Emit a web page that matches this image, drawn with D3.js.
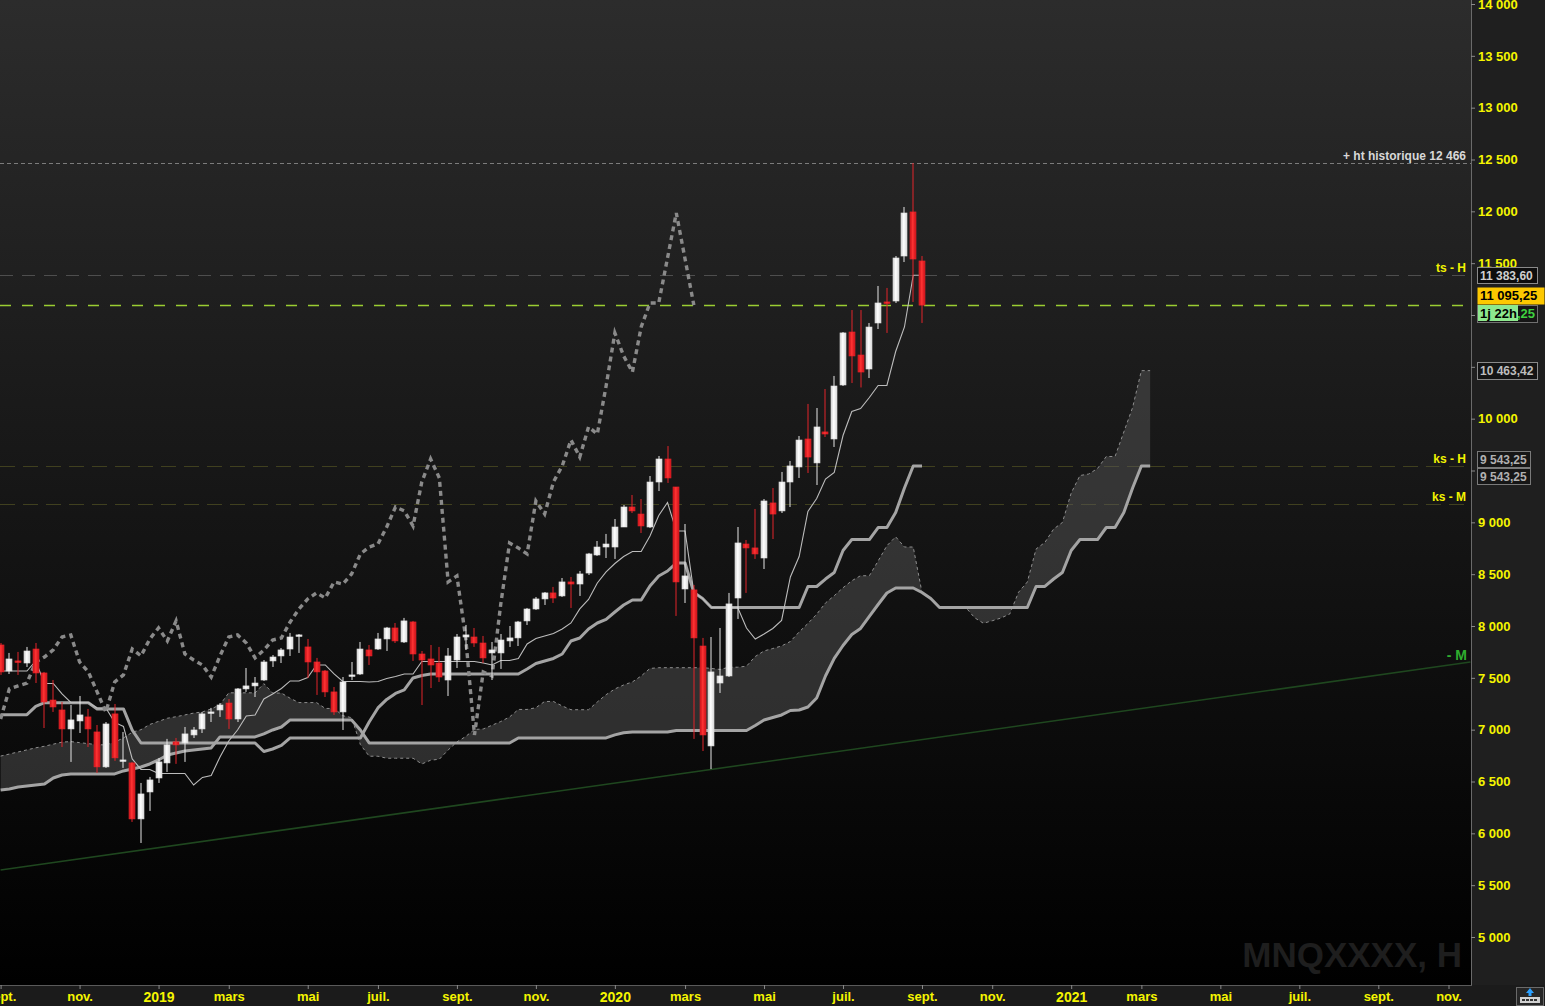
<!DOCTYPE html>
<html><head><meta charset="utf-8">
<script src="https://cdn.jsdelivr.net/npm/d3@7"></script>
<style>
html,body{margin:0;padding:0;background:#000;overflow:hidden;}
svg{display:block;font-family:Arial,"Liberation Sans",sans-serif;}
</style></head><body>
<svg id="c" width="1545" height="1006"></svg>
<script>
// ---------------- DATA (weekly bars, MNQ continuous) ----------------
const startWeek = "2018-09-03";
const opens = [7817,7566,7663,7643,7778,7547,7286,7190,7007,7084,
7123,6978,6641,7152,6699,6679,6139,6399,6534,6679,
6882,6872,6949,7007,7161,7190,7257,7103,7393,7422,
7479,7663,7711,7778,7904,7798,7653,7566,7364,7171,
7518,7537,7769,7778,7875,7981,7846,8039,7730,7682,
7643,7479,7672,7894,7894,7836,7740,7740,7856,7885,
8049,8164,8261,8319,8290,8425,8405,8511,8685,8762,
8762,8955,9148,9080,8955,9389,9611,9341,8357,8348,
7807,6843,7450,7518,8270,8791,8753,8656,9187,9110,
9389,9534,9804,9573,9872,9804,10325,10836,10614,10479,
10923,11126,11135,11569,11994,11521];
const highs = [7836,7740,7750,7798,7836,7557,7479,7267,7238,7325,
7200,7045,7074,7248,6978,6689,6486,6544,6727,6911,
6920,7026,7026,7171,7210,7257,7296,7402,7595,7508,
7672,7720,7788,7933,7923,7875,7692,7576,7412,7508,
7653,7846,7817,7933,7991,8029,8078,8049,7759,7817,
7798,7788,7923,8010,7981,7904,7846,7923,8000,8049,
8174,8280,8328,8377,8463,8473,8531,8705,8820,8888,
9032,9167,9264,9225,9447,9640,9736,9341,8984,8396,
7885,7894,7981,8319,8955,8830,9129,9225,9331,9486,
9592,9833,10142,10103,10286,10412,10836,11048,11048,10923,
11280,11261,11569,12042,12466,11569];
const lows = [7528,7537,7528,7605,7450,7016,7171,6833,6689,6968,
6833,6583,6631,6699,6631,6110,5907,6216,6486,6592,
6670,6689,6920,6968,7074,7123,7007,7074,7364,7315,
7470,7605,7643,7711,7740,7499,7335,7315,7142,6997,
7479,7528,7624,7769,7759,7836,7836,7663,7238,7402,
7460,7325,7595,7769,7798,7643,7479,7586,7798,7807,
8010,8155,8203,8222,8280,8174,8290,8492,8676,8656,
8647,8955,9090,8897,8945,9302,9380,8097,8222,6911,
6794,6620.5,7354,7508,8068,8319,8647,8550,8839,9090,
9148,9428,9476,9360,9823,9727,10315,10344,10301,10392,
10865,10827,11116,11511,11126,10923];
const closes = [7557,7682,7653,7759,7547,7267,7219,7007,7094,7142,
7007,6641,7055,6728,6708,6139,6380,6515,6689,6853,
6853,6959,6997,7152,7171,7238,7103,7393,7422,7450,
7653,7701,7769,7894,7914,7653,7557,7364,7171,7460,
7528,7778,7711,7875,7981,7856,8049,7730,7672,7624,
7508,7711,7894,7914,7836,7692,7769,7865,7885,8039,
8164,8261,8319,8270,8425,8405,8502,8695,8762,8791,
8955,9148,9110,8965,9389,9611,9428,8425,8483,7885,
6949,7557,7518,8213,8801,8753,8695,9206,9080,9389,
9544,9794,9630,9920,9852,10315,10827,10605,10450,10884,
11116,11116,11550,11984,11540,11095.25];

// Ichimoku lines (tenkan / kijun per bar, senkou spans projected 26 bars ahead)
const tenkan = [7566,7566,7566,7566,7663,7446,7446,7345,7262.5,7262.5,
7262.5,7209.5,7209.5,7070,7031,6717.5,6616,6616,6577.5,6577.5,
6577.5,6577.5,6466.5,6539,6558.5,6736.5,6891,6997,7132.5,7142,
7296,7344,7397.5,7470,7470,7503.5,7624,7624,7537.5,7465,
7465,7465,7460,7465,7494,7513,7537.5,7537.5,7658,7658,
7658,7658,7658,7658,7658,7643.5,7624,7667.5,7667.5,7687,
7826.5,7879.5,7903.5,7928,7971,8029.5,8164.5,8256,8415,8521.5,
8603,8670.5,8719,8719,8868.5,9066,9191.5,8916.5,8916.5,8323.5,
8265,8178,8178,8178,8178,7980.75,7874.75,7922.75,7975.75,8053.25,
8473,8670.5,9105,9230.5,9418,9481,9837.5,10069,10098,10204,
10320,10320,10648,10884.5,11383.6,11383.6];
const kijun = [7145,7145,7145,7145,7225,7260,7260,7260,7260,7260,
7260,7200,7200,7200,7200,6995,6871.5,6871.5,6871.5,6871.5,
6871.5,6871.5,6871.5,6871.5,6871.5,6871.5,6871.5,6871.5,6871.5,6871.5,
6789.5,6813.5,6847.5,6920,6920,6920,6920,6920,6920,6920,
6920,6920,7074.5,7209.5,7291.5,7349.5,7383.5,7499,7523,7537.5,
7537.5,7537.5,7537.5,7537.5,7537.5,7537.5,7537.5,7537.5,7537.5,7537.5,
7585.5,7638.5,7662.5,7687,7730,7855.5,7884.5,7971.5,8029,8063,
8135,8202.5,8251,8251,8386,8482.5,8530.5,8607.5,8607.5,8323.5,
8265,8178,8178,8178,8178,8178,8178,8178,8178,8178,
8178,8178,8381,8381,8453,8516,8728,8834,8834,8834,
8950,8950,9095,9331,9543.25,9543.25];
const senkouA = [6745,6765,6785,6805,6825,6840,6860,6880,6885,6875,
6865,6855,6853,6880,6920,6975,7000,7050,7080,7110,
7125,7142,7160,7171,7200,7240,7355.5,7355.5,7355.5,7355.5,
7444,7353,7353,7302.5,7261.25,7261.25,7261.25,7204.75,7204.75,7135,
7115.5,6856.25,6743.75,6743.75,6724.5,6724.5,6724.5,6724.5,6669,6705.25,
6715,6804,6881.25,6934.25,7002,7006.75,7042.75,7078.75,7122.5,7195,
7195,7211.75,7272,7272,7228.75,7192.5,7192.5,7192.5,7267.25,7337.25,
7392.75,7431.25,7460.5,7518.25,7590.5,7597.75,7597.75,7597.75,7597.75,7597.75,
7597.75,7590.5,7580.75,7602.5,7602.5,7612.25,7706,7759,7783,7807.5,
7850.5,7942.5,8024.5,8113.75,8222,8292.25,8369,8436.5,8485,8485,
8627.25,8774.25,8861,8762,8762,8323.5,8265,8178,8178,8178,
8178,8079.4,8026.4,8050.4,8076.9,8115.6,8325.5,8424.25,8743,8805.75,
8935.5,8998.5,9282.75,9451.5,9466,9519,9635,9635,9871.5,10107.75,
10463.42,10463.42];
const senkouB = [6418,6428,6447,6457,6467,6476,6534,6563,6573,6573,
6573,6573,6573,6573,6602,6621,6640,6669,6708,6756,
6775,6795,6804,6814,6824,6930,6930,6930,6930,6930,
6959,6997,7026,7094,7094,7094,7094,7094,7094,7094,
7094,6997,6872,6872,6872,6872,6872,6872,6872,6872,
6872,6872,6872,6872,6872,6872,6872,6872,6872,6920,
6920,6920,6920,6920,6920,6920,6920,6920,6920,6920,
6950,6970,6978,6978,6978,6978,6978,6992.5,6992.5,6992.5,
6992.5,6992.5,6992.5,6992.5,6992.5,6992.5,7040.5,7093.5,7117.5,7142,
7185,7190,7219,7306,7518,7687,7812,7918.5,7976.5,8092,
8207.5,8318.5,8366.5,8366.5,8366.5,8323.5,8265,8178,8178,8178,
8178,8178,8178,8178,8178,8178,8178,8178,8381.25,8381.25,
8453.25,8516.25,8728.25,8834.25,8834.25,8834.25,8950.25,8950.25,9094.75,9331.25,
9543.25,9543.25];
const chikouShift = 26;

const yTicks = [5000,5500,6000,6500,7000,7500,8000,8500,9000,9500,10000,10500,11000,11500,12000,12500,13000,13500,14000];
const yTicksCovered = [9500, 11000];   // labels hidden behind the price boxes in the reference
const monthNames = ["janv.","févr.","mars","avr.","mai","juin","juil.","août","sept.","oct.","nov.","déc."];

const levelVals = [12466, 11383.6, 11095.25, 9543.25, 9177];
const levelLabels = ["+ ht historique 12 466", "ts - H", "", "ks - H", "ks - M"];
const trendIdx = [0, 167.5];
const trendVals = [5646, 7653];
const trendLabel = "- M";
const watermark = "MNQXXXX, H";
const timerLabel = "1j 22h";
const timerTail = ",25";

// ---------------- LAYOUT ----------------
const W = 1545, H = 1006, PR = 1471, PB = 985;
const fr = d3.formatLocale({decimal: ",", thousands: " ", grouping: [3], currency: ["", " €"]});
const fmtInt = fr.format(",");
const fmt2 = fr.format(",.2f");

const x = d3.scaleLinear().domain([0, 105]).range([0.6, 922]);
const y = d3.scaleLinear().domain([5000, 14000]).range([937, 4]);

const svg = d3.select("#c");
const defs = svg.append("defs");
const bg = defs.append("linearGradient").attr("id","bg").attr("x1",0).attr("y1",0).attr("x2",0).attr("y2",1);
bg.append("stop").attr("offset",0).attr("stop-color","#2c2c2c");
bg.append("stop").attr("offset",1).attr("stop-color","#000000");
function hgrad(id, a, b, c){
  const g = defs.append("linearGradient").attr("id",id).attr("x1",0).attr("y1",0).attr("x2",1).attr("y2",0);
  g.append("stop").attr("offset",0).attr("stop-color",a);
  g.append("stop").attr("offset",0.45).attr("stop-color",b);
  g.append("stop").attr("offset",1).attr("stop-color",c);
}
hgrad("gRed", "#c20d15", "#ff3434", "#c80f17");
hgrad("gWhite", "#cfcfcf", "#ffffff", "#d8d8d8");
defs.append("clipPath").attr("id","clip").append("rect").attr("width",PR).attr("height",PB);

svg.append("rect").attr("width",W).attr("height",H).attr("fill","#1f1f1f");
svg.append("rect").attr("width",PR).attr("height",PB).attr("fill","url(#bg)");

const plot = svg.append("g").attr("clip-path","url(#clip)");

// watermark
plot.append("text").attr("x",1462).attr("y",967).attr("text-anchor","end")
  .attr("font-size",35).attr("font-weight","bold").attr("fill","#1e1e1e").text(watermark);

// horizontal levels
const levelStyle = [
  {stroke:"#7c7c7c", dash:"4,3", w:1, color:"#d8d8d8"},
  {stroke:"#4e4e4e", dash:"13,9", w:1, color:"#f2f200"},
  {stroke:"#9acd32", dash:"11,11", w:1.4, color:null},
  {stroke:"#40401f", dash:"15,8", w:1, color:"#f2f200"},
  {stroke:"#40401f", dash:"15,8", w:1, color:"#f2f200"}
];
levelVals.forEach((v,k)=>{
  const yy = Math.round(y(v)) + 0.5;
  plot.append("line").attr("x1",0).attr("x2",PR).attr("y1",yy).attr("y2",yy)
    .attr("stroke",levelStyle[k].stroke).attr("stroke-width",levelStyle[k].w)
    .attr("stroke-dasharray",levelStyle[k].dash);
  if (levelLabels[k]) {
    plot.append("text").attr("x",1466).attr("y",yy-4).attr("text-anchor","end")
      .attr("font-size",12).attr("font-weight","bold").attr("fill",levelStyle[k].color)
      .text(levelLabels[k]);
  }
});

// green trend line
plot.append("line").attr("x1",x(trendIdx[0])).attr("y1",y(trendVals[0]))
  .attr("x2",x(trendIdx[1])).attr("y2",y(trendVals[1]))
  .attr("stroke","#1f471f").attr("stroke-width",1.6);
plot.append("text").attr("x",1467).attr("y",y(trendVals[1])-2).attr("text-anchor","end")
  .attr("font-size",14).attr("font-weight","bold").attr("fill","#2fae2f").text(trendLabel);

// cloud
const idxA = senkouA.map((d,i)=>i);
plot.append("path").datum(idxA)
  .attr("d", d3.area().x(i=>x(i)).y0(i=>y(senkouB[i])).y1(i=>y(senkouA[i])))
  .attr("fill","rgba(92,92,92,0.45)");
plot.append("path").datum(idxA)
  .attr("d", d3.line().x(i=>x(i)).y(i=>y(senkouA[i])))
  .attr("fill","none").attr("stroke","#8e8e8e").attr("stroke-width",1).attr("stroke-dasharray","3,3");
plot.append("path").datum(idxA)
  .attr("d", d3.line().x(i=>x(i)).y(i=>y(senkouB[i])))
  .attr("fill","none").attr("stroke","#a4a4a4").attr("stroke-width",3).attr("stroke-linejoin","round");

// kijun
plot.append("path").datum(kijun)
  .attr("d", d3.line().x((d,i)=>x(i)).y(d=>y(d)))
  .attr("fill","none").attr("stroke","#a4a4a4").attr("stroke-width",3).attr("stroke-linejoin","round");
// tenkan
plot.append("path").datum(tenkan)
  .attr("d", d3.line().x((d,i)=>x(i)).y(d=>y(d)))
  .attr("fill","none").attr("stroke","#bcbcbc").attr("stroke-width",1.1);
// chikou (closes plotted 26 bars back)
const chikou = closes.slice(chikouShift);
plot.append("path").datum(chikou)
  .attr("d", d3.line().x((d,i)=>x(i)).y(d=>y(d)))
  .attr("fill","none").attr("stroke","#8a8a8a").attr("stroke-width",3.4).attr("stroke-dasharray","5,4");

// candles
const bars = opens.map((o,i)=>({i, o, h:highs[i], l:lows[i], c:closes[i]}));
const cg = plot.append("g");
bars.forEach(b=>{
  const up = b.c >= b.o;
  const cx = Math.round(x(b.i));
  cg.append("rect").attr("x",cx-0.5).attr("width",1)
    .attr("y",y(b.h)).attr("height",Math.max(1,y(b.l)-y(b.h)))
    .attr("fill", up ? "#e6e6e6" : "#e2242a");
  const top = y(Math.max(b.o,b.c)), bot = y(Math.min(b.o,b.c));
  cg.append("rect").attr("x",cx-3).attr("width",6)
    .attr("y",top).attr("height",Math.max(1.5,bot-top))
    .attr("fill", up ? "url(#gWhite)" : "url(#gRed)")
    .attr("stroke", up ? "#e0e0e0" : "#e8262c").attr("stroke-width",0.6);
});

// ---------------- AXES ----------------
svg.append("rect").attr("x",PR).attr("y",0).attr("width",W-PR).attr("height",PB).attr("fill","#1f1f1f");
svg.append("line").attr("x1",PR+0.5).attr("x2",PR+0.5).attr("y1",0).attr("y2",PB).attr("stroke","#6a6a6a");
svg.append("rect").attr("x",0).attr("y",PB).attr("width",W).attr("height",H-PB).attr("fill","#1b1b1b");
svg.append("line").attr("x1",0).attr("x2",PR+1).attr("y1",PB+0.5).attr("y2",PB+0.5).attr("stroke","#5a5a5a");

const yAxis = svg.append("g").attr("transform",`translate(${PR},0)`)
  .call(d3.axisRight(y).tickValues(yTicks)
    .tickFormat(v => yTicksCovered.includes(v) ? "" : fmtInt(v)).tickSize(4).tickPadding(3));
yAxis.select(".domain").remove();
yAxis.selectAll("line").attr("stroke","#8a8a8a");
yAxis.selectAll("text").attr("fill","#f5f500").attr("font-size",13).attr("font-weight","bold")
  .attr("font-family","Arial, 'Liberation Sans', sans-serif");

// x ticks: first weekly bar of every other month
const s0 = new Date(startWeek + "T00:00:00Z");
const months = d3.utcMonth.every(2).range(new Date(Date.UTC(2018,8,1)), new Date(Date.UTC(2021,11,2)));
const tickIdx = months.map(m => d3.utcMonday.count(s0, d3.utcMonday.ceil(m)));
const tickLab = months.map(m => m.getUTCMonth() === 0 ? String(m.getUTCFullYear()) : monthNames[m.getUTCMonth()]);
const xAxis = svg.append("g").attr("transform",`translate(0,${PB})`)
  .call(d3.axisBottom(x).tickValues(tickIdx).tickFormat((d,k)=>tickLab[k]).tickSize(4).tickPadding(3));
xAxis.select(".domain").remove();
xAxis.selectAll("line").attr("stroke","#8a8a8a");
xAxis.selectAll("text").attr("fill","#f5f500").attr("font-weight","bold")
  .attr("font-family","Arial, 'Liberation Sans', sans-serif")
  .attr("font-size",(d,k)=> /^\d{4}$/.test(tickLab[k]) ? 14 : 13);

// ---------------- PRICE BOXES ----------------
function box(x0, w, yc, h, fill, stroke, txt, color, size, anchor){
  svg.append("rect").attr("x",x0+0.5).attr("y",Math.round(yc-h/2)+0.5).attr("width",w).attr("height",h)
    .attr("fill",fill).attr("stroke",stroke||"none");
  if (txt) svg.append("text").attr("x", anchor==="end" ? x0+w-2 : x0+3).attr("y",yc+4.5)
    .attr("text-anchor", anchor||"start").attr("font-size",size).attr("font-weight","bold")
    .attr("fill",color).text(txt);
}
box(1477, 60, y(levelVals[1]), 16, "#0d0d0d", "#8a8a8a", fmt2(levelVals[1]), "#cfcfcf", 12);
box(1477, 67, y(closes[105]) - 10, 17, "#fdc800", null, fmt2(closes[105]), "#000", 13);
box(1477, 60, y(closes[105]) + 8, 17, "#161616", "#707070", timerTail, "#3fd13f", 13, "end");
svg.append("rect").attr("x",1478).attr("y",Math.round(y(closes[105]))).attr("width",40).attr("height",16).attr("fill","#8ee88e");
svg.append("text").attr("x",1480).attr("y",y(closes[105])+12.5).attr("font-size",13).attr("font-weight","bold")
  .attr("fill","#000").text(timerLabel);
box(1477, 60, y(senkouA[131]), 17, "#141414", "#8a8a8a", fmt2(senkouA[131]), "#bdbdbd", 12);
box(1477, 53, y(levelVals[3]) - 7, 16, "#161616", "#7a7a7a", fmt2(levelVals[3]), "#b0b0b0", 12);
box(1477, 53, y(senkouB[131]) + 10, 16, "#161616", "#7a7a7a", fmt2(senkouB[131]), "#b0b0b0", 12);

// bottom-right icon
const ic = svg.append("g");
ic.append("rect").attr("x",1516.5).attr("y",987.5).attr("width",27).attr("height",18).attr("fill","#262626").attr("stroke","#6a6a6a");
ic.append("rect").attr("x",1520).attr("y",997).attr("width",20).attr("height",6).attr("fill","#d0d0d0");
[1522,1526,1530,1534].forEach(px=>ic.append("rect").attr("x",px).attr("y",999).attr("width",3).attr("height",2).attr("fill","#333"));
ic.append("path").attr("d","M1530,988 L1534,993 L1531.5,993 L1531.5,996 L1528.5,996 L1528.5,993 L1526,993 Z").attr("fill","#2aa0ff");
</script>
</body></html>
